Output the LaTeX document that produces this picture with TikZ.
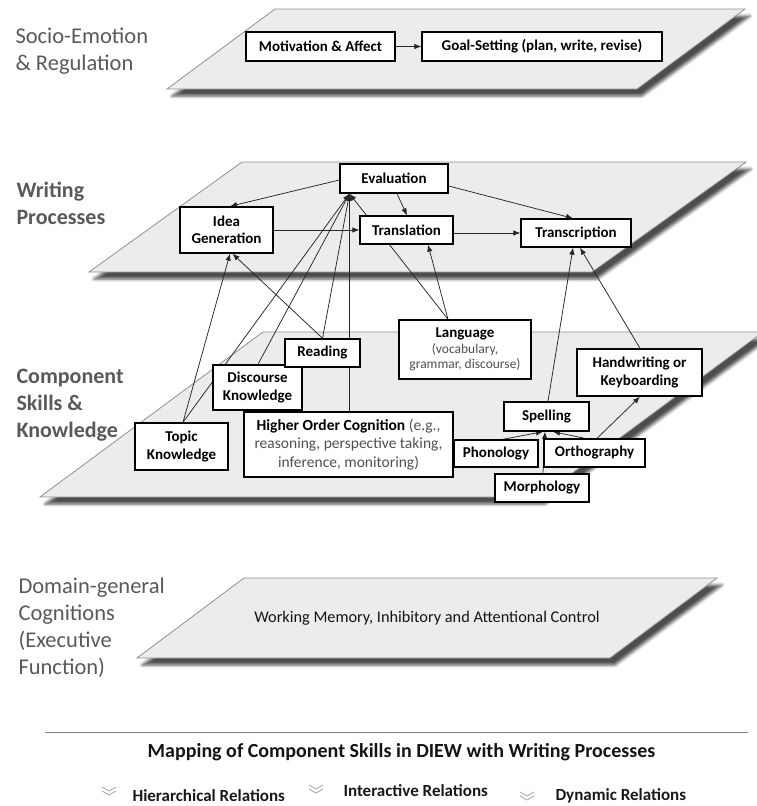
\documentclass[tikz,border=0pt]{standalone}
\usepackage{fontspec}
\setmainfont{Carlito}
\usetikzlibrary{shadows.blur,arrows.meta}
\definecolor{planefill}{RGB}{236,236,236}
\definecolor{planeedge}{RGB}{145,145,145}
\definecolor{labelgray}{RGB}{89,89,89}
\definecolor{subgray}{RGB}{80,80,80}
\definecolor{chevgray}{RGB}{165,165,165}
\newcommand\subtxt[1]{{\mdseries\fontsize{13.5}{15}\selectfont\color{subgray}#1}}
\pgfdeclarelayer{planelayer}
\pgfdeclarelayer{connlayer}
\pgfsetlayers{planelayer,connlayer,main}
\begin{document}
\begin{tikzpicture}[x=1pt,y=-1pt,
  plane/.style={fill=planefill, draw=planeedge, line width=0.8pt,
    blur shadow={shadow xshift=5pt, shadow yshift=-7pt, shadow blur radius=3pt, shadow opacity=70}},
  box/.style={draw=black, fill=white, line width=1.4pt, inner sep=0pt, align=center,
    font=\fontsize{15}{17.5}\selectfont\bfseries},
  lbl/.style={anchor=west, align=left, text=labelgray, font=\fontsize{22.5}{27}\selectfont},
  lblb/.style={lbl, font=\fontsize{22}{27}\selectfont\bfseries},
  conn/.style={draw=black!85, line width=0.75pt, -{Latex[length=7pt,width=5.5pt]}},
  legend/.style={anchor=west, font=\fontsize{17}{19}\selectfont\bfseries, text=black!90},
  chev/.style={draw=chevgray, line width=0.8pt},
]
\useasboundingbox (0,0) rectangle (756,806);

% planes
\begin{pgfonlayer}{planelayer}
\path[plane] (275,9) -- (745,9) -- (637,89) -- (167,89) -- cycle;
\path[plane] (242,162) -- (746,162) -- (592,272) -- (89,272) -- cycle;
\path[plane] (263,332) -- (763,332) -- (540,497) -- (40,497) -- cycle;
\path[plane] (244,578) -- (717,578) -- (610,658) -- (137,658) -- cycle;
\end{pgfonlayer}

% side labels
\node[lbl] (lsoc) at (12,51) {Socio-Emotion\\\& Regulation};
\node[lblb] (lwri) at (13,203) {Writing\\Processes};
\node[lblb] (lcom) at (13,405) {Component\\Skills \&\\Knowledge};
\node[lbl] (ldom) at (15,628) {Domain-general\\Cognitions\\(Executive\\Function)};

% boxes
\node[box, minimum width=149pt, minimum height=29pt] (mot) at (320.5,46.5) {Motivation \& Affect};
\node[box, minimum width=240pt, minimum height=29pt] (goal) at (542,46.5) {Goal-Setting (plan, write, revise)};

\node[box, minimum width=108pt, minimum height=29pt] (eval) at (394,178.5) {Evaluation};
\node[box, minimum width=93pt, minimum height=46pt] (idea) at (226.5,230) {Idea\\Generation};
\node[box, minimum width=93pt, minimum height=28pt] (trans) at (406.5,230) {Translation};
\node[box, minimum width=110pt, minimum height=28pt] (transc) at (576,233) {Transcription};

\node[box, minimum width=132pt, minimum height=59pt] (lang) at (465,349.5)
  {Language\\[-1pt]\subtxt{(vocabulary,}\\[-2.5pt]\subtxt{grammar, discourse)}};
\node[box, minimum width=93pt, minimum height=47pt] (topic) at (181.5,446.5) {Topic\\Knowledge};
\node[box, minimum width=89pt, minimum height=45pt] (disc) at (257.5,387.5) {Discourse\\Knowledge};
\node[box, minimum width=75pt, minimum height=28pt] (read) at (322.5,353) {Reading};
\node[box, minimum width=209pt, minimum height=65pt, font=\fontsize{15.5}{18.5}\selectfont] (hoc) at (348.5,444.5)
  {\textbf{Higher Order Cognition} {\color{subgray}(e.g.,}\\{\color{subgray}reasoning, perspective taking,}\\{\color{subgray}inference, monitoring)}};
\node[box, minimum width=125pt, minimum height=47pt] (hand) at (639.5,372.5) {Handwriting or\\Keyboarding};
\node[box, minimum width=85pt, minimum height=29pt] (spell) at (546.5,416.5) {Spelling};
\node[box, minimum width=84pt, minimum height=27pt] (phon) at (496,453.5) {Phonology};
\node[box, minimum width=101pt, minimum height=28pt] (orth) at (594.5,453) {Orthography};
\node[box, minimum width=94pt, minimum height=28pt] (morph) at (542,488) {Morphology};

\node[font=\fontsize{16.3}{19}\selectfont, text=black!92] (wm) at (427,618) {Working Memory, Inhibitory and Attentional Control};

% connectors
\begin{pgfonlayer}{connlayer}
\draw[conn] (mot.east) -- (goal.west);
\draw[conn] ([yshift=-1.5pt]eval.west) -- ([xshift=3.5pt]idea.north);
\draw[conn] ([xshift=3pt]eval.south) -- ([xshift=0.5pt]trans.north);
\draw[conn] ([yshift=-7.5pt]eval.east) -- ([xshift=-3pt]transc.north);
\draw[conn] (idea.east) -- (trans.west);
\draw[conn] ([yshift=-3pt]trans.east) -- (transc.west);
\draw[conn] ([xshift=1.5pt]topic.north) -- ([xshift=3.5pt]idea.south);
\draw[conn] ([xshift=1.5pt]topic.north) -- ([xshift=-44.5pt]eval.south);
\draw[conn] ([xshift=0.5pt]disc.north) -- ([xshift=-44.5pt]eval.south);
\draw[conn] (read.north) -- ([xshift=-44.5pt]eval.south);
\draw[conn] (read.north) -- ([xshift=6pt]idea.south);
\draw[conn] ([xshift=1pt]hoc.north) -- ([xshift=-44.5pt]eval.south);
\draw[conn] ([xshift=-17pt]lang.north) -- ([xshift=-44.5pt]eval.south);
\draw[conn] ([xshift=-17pt]lang.north) -- ([xshift=21.5pt]trans.south);
\draw[conn] ([xshift=1.5pt]spell.north) -- ([xshift=-3pt]transc.south);
\draw[conn] ([xshift=0.5pt]hand.north) -- ([xshift=4pt]transc.south);
\draw[conn] ([xshift=7pt]phon.north) -- ([xshift=-3.5pt]spell.south);
\draw[conn] ([xshift=-9.5pt]orth.north) -- ([xshift=6.5pt]spell.south);
\draw[conn] ([xshift=1pt]morph.north) -- ([xshift=-1.5pt]spell.south);
\draw[conn] ([xshift=2.5pt]orth.north) -- ([xshift=0.5pt]hand.south);
\end{pgfonlayer}

% bottom caption and legend
\draw[draw=gray, line width=1pt] (45,732) -- (748,732);
\node[font=\fontsize{20}{22}\selectfont\bfseries, text=black!92] (title) at (401.5,752)
  {Mapping of Component Skills in DIEW with Writing Processes};
\node[legend] (lh) at (129,796) {Hierarchical Relations};
\node[legend] (li) at (340,791) {Interactive Relations};
\node[legend] (ld) at (552,796) {Dynamic Relations};
\draw[chev] (102,787) -- (109,791) -- (116,787) (102,791) -- (109,795) -- (116,791);
\draw[chev] (309,785) -- (316,789) -- (323,785) (309,789) -- (316,793) -- (323,789);
\draw[chev] (520,792) -- (527,796) -- (534,792) (520,796) -- (527,800) -- (534,796);
\end{tikzpicture}
\end{document}
